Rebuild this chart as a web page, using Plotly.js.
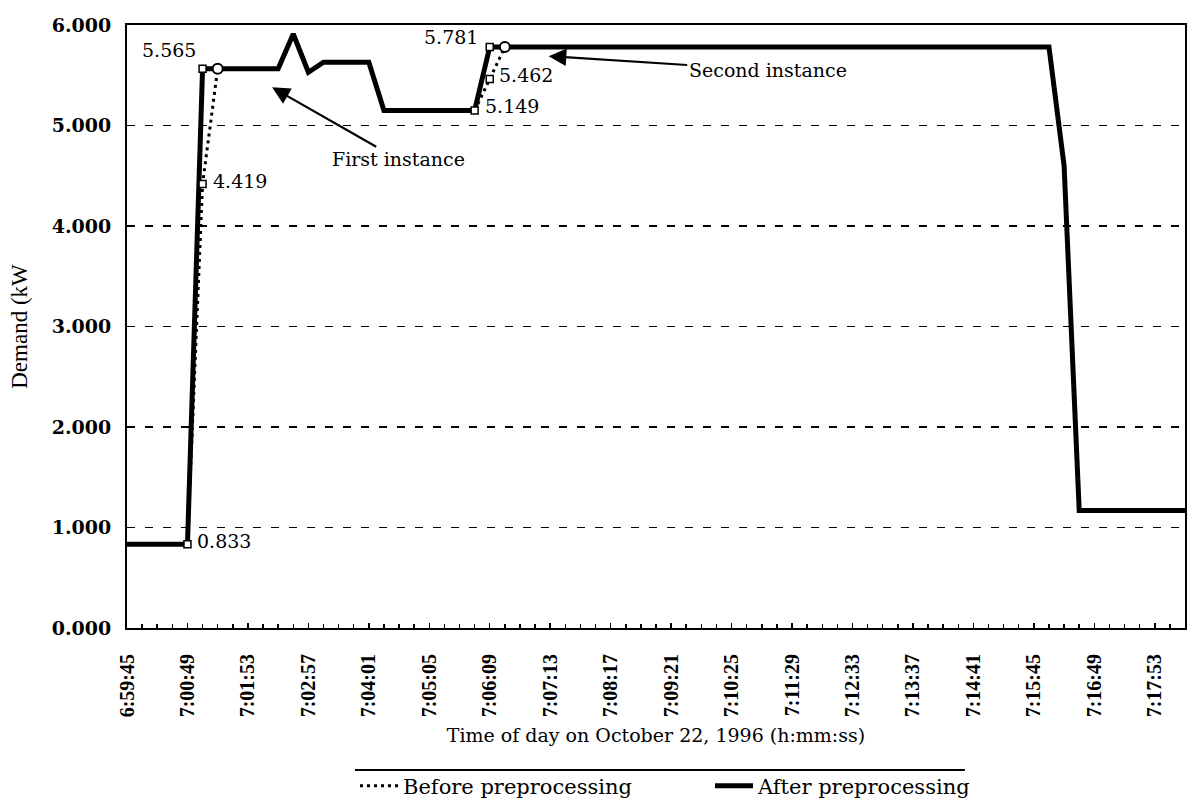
<!DOCTYPE html>
<html>
<head>
<meta charset="utf-8">
<script src="https://cdn.plot.ly/plotly-3.0.1.min.js"></script>
<style>html,body{margin:0;padding:0;background:#fff;}#chart{width:1187px;height:808px;}</style>
</head>
<body>
<div id="chart"></div>
<script>
// Time stamps (16 s sampling)
const times = ["6:59:45","7:00:01","7:00:17","7:00:33","7:00:49","7:01:05","7:01:21","7:01:37","7:01:53","7:02:09",
"7:02:25","7:02:41","7:02:57","7:03:13","7:03:29","7:03:45","7:04:01","7:04:17","7:04:33","7:04:49",
"7:05:05","7:05:21","7:05:37","7:05:53","7:06:09","7:06:25","7:06:41","7:06:57","7:07:13","7:07:29",
"7:07:45","7:08:01","7:08:17","7:08:33","7:08:49","7:09:05","7:09:21","7:09:37","7:09:53","7:10:09",
"7:10:25","7:10:41","7:10:57","7:11:13","7:11:29","7:11:45","7:12:01","7:12:17","7:12:33","7:12:49",
"7:13:05","7:13:21","7:13:37","7:13:53","7:14:09","7:14:25","7:14:41","7:14:57","7:15:13","7:15:29",
"7:15:45","7:16:01","7:16:17","7:16:33","7:16:49","7:17:05","7:17:21","7:17:37","7:17:53","7:18:09","7:18:25"];

const tickLabels = ["6:59:45","7:00:49","7:01:53","7:02:57","7:04:01","7:05:05","7:06:09","7:07:13","7:08:17",
"7:09:21","7:10:25","7:11:29","7:12:33","7:13:37","7:14:41","7:15:45","7:16:49","7:17:53"];

// Demand (kW) before preprocessing
const before = [0.833,0.833,0.833,0.833,0.833,4.419,5.565,5.565,5.565,5.565,
5.565,5.91,5.53,5.63,5.63,5.63,5.63,5.149,5.149,5.149,
5.149,5.149,5.149,5.149,5.462,5.781,5.781,5.781,5.781,5.781,
5.781,5.781,5.781,5.781,5.781,5.781,5.781,5.781,5.781,5.781,
5.781,5.781,5.781,5.781,5.781,5.781,5.781,5.781,5.781,5.781,
5.781,5.781,5.781,5.781,5.781,5.781,5.781,5.781,5.781,5.781,
5.781,5.781,4.6,1.17,1.17,1.17,1.17,1.17,1.17,1.17,1.17];

// Demand (kW) after preprocessing
const after = [0.833,0.833,0.833,0.833,0.833,5.565,5.565,5.565,5.565,5.565,
5.565,5.91,5.53,5.63,5.63,5.63,5.63,5.149,5.149,5.149,
5.149,5.149,5.149,5.149,5.781,5.781,5.781,5.781,5.781,5.781,
5.781,5.781,5.781,5.781,5.781,5.781,5.781,5.781,5.781,5.781,
5.781,5.781,5.781,5.781,5.781,5.781,5.781,5.781,5.781,5.781,
5.781,5.781,5.781,5.781,5.781,5.781,5.781,5.781,5.781,5.781,
5.781,5.781,4.6,1.17,1.17,1.17,1.17,1.17,1.17,1.17,1.17];

// Labelled points: which series and which sample
const labelSeries = ["before","before","after","before","before","after"];
const labelIndex  = [4, 5, 5, 23, 24, 24];
// Round markers (first "before" sample reaching the new level)
const roundSeries = ["before","before"];
const roundIndex  = [6, 25];

// label placement styles (anchor, shift in px)
const labelStyle = [
  {xanchor: "left", xshift: 8, yshift: 3},
  {xanchor: "left", xshift: 8, yshift: 3},
  {xanchor: "right", xshift: -5, yshift: 19},
  {xanchor: "left", xshift: 8, yshift: 5},
  {xanchor: "left", xshift: 7, yshift: 4},
  {xanchor: "right", xshift: -10, yshift: 10}
];

const series = {before: before, after: after};
const xs = times.map((t, i) => i);
const tickVals = tickLabels.map(l => times.indexOf(l));

const serif = "DejaVu Serif";
const tnr = "Liberation Serif";

const traces = [
  {x: xs, y: before, name: "Before preprocessing", mode: "lines",
   line: {color: "#000", width: 3, dash: "3px,4px"}, hoverinfo: "skip"},
  {x: xs, y: after, name: "After preprocessing", mode: "lines",
   line: {color: "#000", width: 5}, hoverinfo: "skip"},
  {x: labelIndex, y: labelIndex.map((k, j) => series[labelSeries[j]][k]),
   mode: "markers", showlegend: false,
   marker: {symbol: "square", size: 7, color: "#fff", line: {color: "#000", width: 1.5}},
   cliponaxis: false},
  {x: roundIndex, y: roundIndex.map((k, j) => series[roundSeries[j]][k]),
   mode: "markers", showlegend: false,
   marker: {symbol: "circle", size: 10, color: "#fff", line: {color: "#000", width: 2}},
   cliponaxis: false}
];

const labelAnn = labelIndex.map((k, j) => Object.assign({
  x: k, y: series[labelSeries[j]][k], xref: "x", yref: "y",
  text: series[labelSeries[j]][k].toFixed(3), showarrow: false, yanchor: "middle",
  font: {family: serif, size: 19, color: "#000"}
}, labelStyle[j]));

const layout = {
  width: 1187, height: 808,
  margin: {l: 127, r: 2, t: 25, b: 176},
  paper_bgcolor: "#fff", plot_bgcolor: "#fff",
  font: {family: serif, size: 19, color: "#000"},
  showlegend: true,
  legend: {orientation: "h", x: 0.2155, xanchor: "left", y: -0.262, yanchor: "middle",
           entrywidth: 302, entrywidthmode: "pixels", itemwidth: 38,
           font: {family: serif, size: 21, color: "#000"}, bgcolor: "rgba(0,0,0,0)"},
  xaxis: {range: [0, 70], showgrid: false, zeroline: false,
          showline: true, mirror: true, linecolor: "#000", linewidth: 2,
          tickmode: "array", tickvals: tickVals, ticktext: tickLabels, tickangle: -90,
          ticks: "inside", ticklen: 5, tickwidth: 1.5, tickcolor: "#000",
          minor: {dtick: 1, tick0: 0, ticks: "inside", ticklen: 4, tickwidth: 1.5, tickcolor: "#000", showgrid: false},
          ticklabelstandoff: 16,
          tickfont: {family: tnr, size: 20, color: "#000", weight: "bold"},
          title: {text: "Time of day on October 22, 1996 (h:mm:ss)", standoff: 12,
                  font: {family: serif, size: 19, color: "#000"}}},
  yaxis: {range: [0, 6], dtick: 1, tick0: 0, tickformat: ".3f", zeroline: false,
          showline: true, mirror: true, linecolor: "#000", linewidth: 2,
          showgrid: true, gridcolor: "#000", gridwidth: 1.5, griddash: "8px,10px",
          ticks: "inside", ticklen: 4, tickwidth: 1.5, tickcolor: "#000",
          ticklabelstandoff: 10,
          tickfont: {family: serif, size: 19, color: "#000", weight: "bold"},
          title: {text: "Demand (kW", standoff: 18,
                  font: {family: tnr, size: 23, color: "#000"}}},
  annotations: labelAnn.concat([
    {x: 9.6, y: 5.38, xref: "x", yref: "y", text: "First instance", showarrow: true,
     ax: 126, ay: 72, axref: "pixel", ayref: "pixel",
     arrowhead: 2, arrowsize: 1.6, arrowwidth: 2.2, arrowcolor: "#000",
     font: {family: serif, size: 19, color: "#000"}},
    {x: 27.9, y: 5.69, xref: "x", yref: "y", text: "Second instance", showarrow: true,
     ax: 219, ay: 14, axref: "pixel", ayref: "pixel",
     arrowhead: 2, arrowsize: 1.6, arrowwidth: 2.2, arrowcolor: "#000",
     font: {family: serif, size: 19, color: "#000"}}
  ]),
  shapes: [
    {type: "line", xref: "paper", yref: "paper", x0: 0.2155, x1: 0.792, y0: -0.2356, y1: -0.2356,
     line: {color: "#000", width: 2}}
  ]
};

Plotly.newPlot("chart", traces, layout, {displayModeBar: false, staticPlot: true});
</script>
</body>
</html>
